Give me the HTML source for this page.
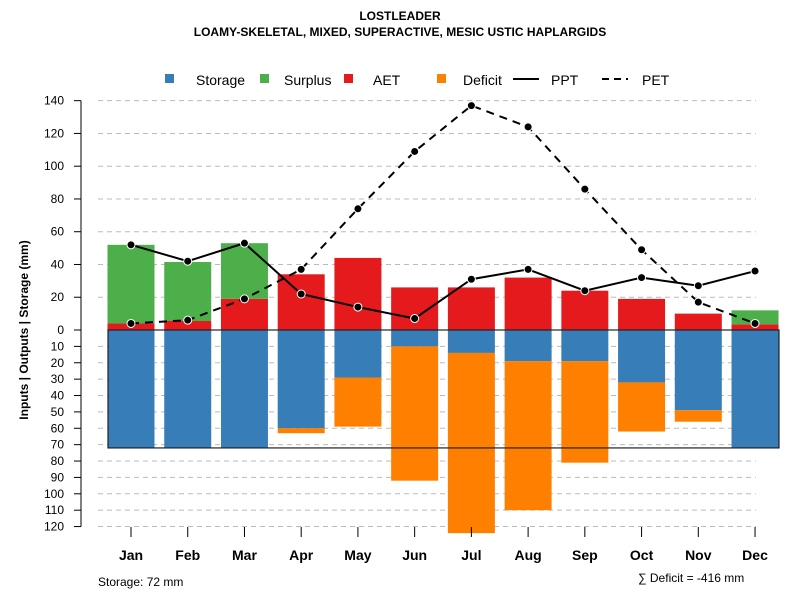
<!DOCTYPE html>
<html><head><meta charset="utf-8"><style>
body{margin:0;background:#fff;}
svg{display:block;font-family:"Liberation Sans",sans-serif;}
</style></head><body>
<svg id="chart" width="800" height="600" viewBox="0 0 800 600">
<text x="400" y="20" text-anchor="middle" font-size="12" font-weight="bold">LOSTLEADER</text>
<text x="400" y="36" text-anchor="middle" font-size="12" font-weight="bold">LOAMY-SKELETAL, MIXED, SUPERACTIVE, MESIC USTIC HAPLARGIDS</text>
<g font-size="14">
<rect x="165" y="74" width="9" height="9" fill="#377eb8"/>
<text x="196" y="85">Storage</text>
<rect x="260" y="74" width="9" height="9" fill="#4daf4a"/>
<text x="284" y="85">Surplus</text>
<rect x="344" y="74" width="9" height="9" fill="#e41a1c"/>
<text x="373" y="85">AET</text>
<rect x="437" y="74" width="9" height="9" fill="#ff7f00"/>
<text x="463" y="85">Deficit</text>
<line x1="513" y1="79" x2="539" y2="79" stroke="#000" stroke-width="2"/>
<text x="551" y="85">PPT</text>
<line x1="602" y1="79" x2="628" y2="79" stroke="#000" stroke-width="2" stroke-dasharray="7,5"/>
<text x="642" y="85">PET</text>
</g>
<text transform="translate(28,330) rotate(-90)" text-anchor="middle" font-size="12" font-weight="bold">Inputs | Outputs | Storage    (mm)</text>
<text x="98" y="586" font-size="12">Storage: 72 mm</text>
<text x="638" y="582" font-size="12">∑ Deficit = -416 mm</text>
<g id="plot"></g>
</svg>
<script>
const months=["Jan","Feb","Mar","Apr","May","Jun","Jul","Aug","Sep","Oct","Nov","Dec"];
const storage=[72,72,72,60,29,10,14,19,19,32,49,72];
const aet=[4,5.5,19,34,44,26,26,32,24,19,10,3.5];
const surplus=[48,36,34,0,0,0,0,0,0,0,0,8.5];
const deficit=[0,0,0,3,30,82,110,91,62,30,7,0];
const ppt=[52,42,53,22,14,7,31,37,24,32,27,36];
const pet=[4,6,19,37,74,109,137,124,86,49,17,4];
const upTicks=[0,20,40,60,80,100,120,140];
const downTicks=[10,20,30,40,50,60,70,80,90,100,110,120];
const maxStorage=72;

const NS="http://www.w3.org/2000/svg";
const g=document.getElementById('plot');
const y0=330, k=1.638;
function yUp(v){return y0-v*k;}
function yDown(v){return y0+v*k;}
function xC(i){return 131+i*56.73;}
const bw=47;
function mk(tag,attrs){const e=document.createElementNS(NS,tag);for(const a in attrs)e.setAttribute(a,attrs[a]);g.appendChild(e);return e;}

// grid + y ticks
upTicks.forEach(v=>{
  const y=yUp(v);
  if(v>0){const l=mk('line',{x1:98,x2:756,y1:y,y2:y,stroke:'#bbb','stroke-dasharray':'5,4'});
  
  }
  const t=mk('line',{x1:74,x2:81,y1:y,y2:y,stroke:'#000'});
  
  
  const tx=mk('text',{x:64,y:y+4,'text-anchor':'end','font-size':12});tx.textContent=v;
  
  
});
downTicks.forEach(v=>{
  const y=yDown(v);
  const l=mk('line',{x1:98,x2:756,y1:y,y2:y,stroke:'#bbb','stroke-dasharray':'5,4'});
  
  
  const t=mk('line',{x1:74,x2:81,y1:y,y2:y,stroke:'#000'});
  
  
  const tx=mk('text',{x:64,y:y+4,'text-anchor':'end','font-size':12});tx.textContent=v;
  
  
});
const ax=mk('line',{x1:81,x2:81,y1:yUp(140),y2:yDown(120),stroke:'#000'});



// bars
months.forEach((m,i)=>{
  const x=xC(i)-bw/2;
  const a=mk('rect',{x:x,y:yUp(aet[i]),width:bw,height:aet[i]*k,fill:'#e41a1c'});
  
  
  if(surplus[i]>0){const s=mk('rect',{x:x,y:yUp(aet[i]+surplus[i]),width:bw,height:surplus[i]*k,fill:'#4daf4a'});
  
  }
  const st=mk('rect',{x:x,y:y0,width:bw,height:storage[i]*k,fill:'#377eb8'});
  
  
  if(deficit[i]>0){const d=mk('rect',{x:x,y:yDown(storage[i]),width:bw,height:deficit[i]*k,fill:'#ff7f00'});
  
  }
  const xt=mk('line',{x1:xC(i),x2:xC(i),y1:527,y2:537,stroke:'#000'});
  
  
  const lb=mk('text',{x:xC(i),y:560,'text-anchor':'middle','font-size':14,'font-weight':'bold'});lb.textContent=m;
  
  
});
const box=mk('rect',{x:108,y:y0,width:671,height:maxStorage*k,fill:'none',stroke:'#222','stroke-width':1.2});



function series(vals,dash,name){
  const p=mk('polyline',{points:vals.map((v,i)=>xC(i)+','+yUp(v)).join(' '),fill:'none',stroke:'#000','stroke-width':2,'stroke-dasharray':dash});
  
  
  vals.forEach((v,i)=>{const c=mk('circle',{cx:xC(i),cy:yUp(v),r:4,fill:'#000',stroke:'#fff','stroke-width':1});
  
  });
}
series(ppt,'none','ppt');
series(pet,'8,6','pet');
</script>
</body></html>
